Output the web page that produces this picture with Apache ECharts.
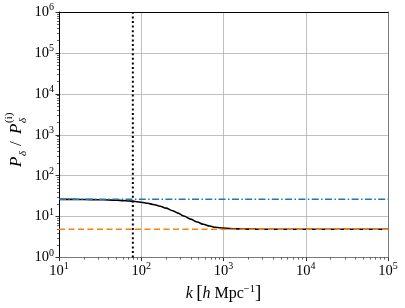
<!DOCTYPE html>
<html>
<head>
<meta charset="utf-8">
<script src="https://cdn.jsdelivr.net/npm/echarts@6/dist/echarts.min.js"></script>
<style>
html,body{margin:0;padding:0;background:#fff;}
#c{width:405px;height:308px;}
</style>
</head>
<body>
<div id="c"></div>
<script>
// ---- data ----
const kValues = [10, 15, 20, 30, 40, 50, 60, 70, 80, 90, 100, 120, 140, 170, 200, 240, 280, 330, 400, 480, 570, 680, 800, 1000, 1200, 1500, 2000, 2500, 3000, 4000, 6000, 10000, 100000];
const ratioValues = [26.5, 26.4, 26.3, 26.0, 25.6, 25.2, 24.7, 24.2, 23.7, 23.1, 22.5, 21.2, 19.9, 18.0, 16.2, 14.0, 12.2, 10.4, 8.7, 7.4, 6.5, 5.9, 5.5, 5.25, 5.12, 5.03, 4.97, 4.95, 4.93, 4.92, 4.92, 4.92, 4.92];
const kRange = [10, 100000];
const blueLevel = 26.5;
const orangeLevel = 4.92;
const kStar = 79;
const yRange = [1, 1e6];
const xDecades = [1, 2, 3, 4, 5];
const yDecades = [0, 1, 2, 3, 4, 5, 6];

const serif = "'Liberation Serif', 'DejaVu Serif', serif";
function minorLogs(decs) {
  const out = [];
  for (let i = 0; i < decs.length - 1; i++) {
    for (let m = 2; m <= 9; m++) out.push(decs[i] + Math.log10(m));
  }
  return out;
}
const tickRich = {
  b: { fontSize: 14.5, fontFamily: serif, color: '#000' },
  s: { fontSize: 10, fontFamily: serif, color: '#000', padding: [0, 0, 9, 0] }
};
function powLabel(v) {
  const e = Math.round(Math.log10(v));
  return '{b|10}{s|' + e + '}';
}
const chart = echarts.init(document.getElementById('c'), null, { renderer: 'canvas' });
const curve = kValues.map((k, i) => [k, ratioValues[i]]);
const grid = { left: 59, right: 17, top: 12, bottom: 50 };
const gridLine = { show: true, lineStyle: { color: '#b0b0b0', width: 0.8 } };

chart.setOption({
  animation: false,
  grid: grid,
  xAxis: [
    {
      type: 'log', logBase: 10, min: kRange[0], max: kRange[1], position: 'bottom',
      axisLine: { show: true, lineStyle: { color: '#7a7a7a', width: 1 } },
      axisTick: { show: true, length: 3.5, lineStyle: { color: '#000', width: 0.8 } },
      axisLabel: { formatter: powLabel, rich: tickRich, margin: 4 },
      splitLine: gridLine,
      name: '{it|k} {br|[}{it|h}{rm| Mpc}{s|−1}{br|]}',
      nameLocation: 'middle', nameGap: 22,
      nameTextStyle: {
        rich: {
          it: { fontSize: 16, fontFamily: serif, fontStyle: 'italic', color: '#000' },
          rm: { fontSize: 16, fontFamily: serif, color: '#000' },
          br: { fontSize: 19, fontFamily: serif, color: '#000' },
          s: { fontSize: 10.5, fontFamily: serif, color: '#000', padding: [0, 0, 9, 0] }
        }
      }
    },
    {
      type: 'value', min: xDecades[0], max: xDecades[xDecades.length - 1], position: 'bottom',
      axisLine: { show: false }, axisLabel: { show: false }, splitLine: { show: false },
      axisTick: { show: true, length: 2, customValues: minorLogs(xDecades), lineStyle: { color: '#000', width: 0.6 } }
    },
    {
      type: 'value', min: 0, max: 1, position: 'top',
      axisLine: { show: true, lineStyle: { color: '#000', width: 1 } },
      axisLabel: { show: false }, axisTick: { show: false }, splitLine: { show: false }
    }
  ],
  yAxis: [
    {
      type: 'log', logBase: 10, min: yRange[0], max: yRange[1], position: 'left',
      axisLine: { show: true, lineStyle: { color: '#000', width: 1 } },
      axisTick: { show: true, length: 3.5, lineStyle: { color: '#000', width: 0.8 } },
      axisLabel: { formatter: powLabel, rich: tickRich, margin: 5 },
      splitLine: gridLine
    },
    {
      type: 'value', min: yDecades[0], max: yDecades[yDecades.length - 1], position: 'left',
      axisLine: { show: false }, axisLabel: { show: false }, splitLine: { show: false },
      axisTick: { show: true, length: 2, customValues: minorLogs(yDecades), lineStyle: { color: '#000', width: 0.6 } }
    },
    {
      type: 'value', min: 0, max: 1, position: 'right',
      axisLine: { show: true, lineStyle: { color: '#7a7a7a', width: 1 } },
      axisLabel: { show: false }, axisTick: { show: false }, splitLine: { show: false }
    }
  ],
  graphic: [{
    type: 'group', x: 17, y: 135, rotation: Math.PI / 2,
    children: [
      { type: 'text', x: -32, y: 0, style: { text: 'P', font: 'italic 17px ' + serif, fill: '#000', textVerticalAlign: 'middle' } },
      { type: 'text', x: -21, y: 6, style: { text: 'δ', font: 'italic 11px ' + serif, fill: '#000', textVerticalAlign: 'middle' } },
      { type: 'text', x: -11, y: 0, style: { text: '/', font: '17px ' + serif, fill: '#000', textVerticalAlign: 'middle' } },
      { type: 'text', x: 1, y: 0, style: { text: 'P', font: 'italic 17px ' + serif, fill: '#000', textVerticalAlign: 'middle' } },
      { type: 'text', x: 12, y: 6, style: { text: 'δ', font: 'italic 11px ' + serif, fill: '#000', textVerticalAlign: 'middle' } },
      { type: 'text', x: 12, y: -8, style: { text: '(i)', font: '11px ' + serif, fill: '#000', textVerticalAlign: 'middle' } }
    ]
  }],
  series: [
    {
      type: 'line', data: curve, smooth: 0.3, smoothMonotone: 'x', showSymbol: false, z: 2,
      lineStyle: { color: '#000', width: 1.6 }
    },
    {
      type: 'line', data: [[kRange[0], blueLevel], [kRange[1], blueLevel]], showSymbol: false, z: 3,
      lineStyle: { color: '#1f77b4', width: 1.5, type: [7, 2.4, 1.5, 2.4] }
    },
    {
      type: 'line', data: [[kRange[0], orangeLevel], [kRange[1], orangeLevel]], showSymbol: false, z: 3,
      lineStyle: { color: '#ff7f0e', width: 1.5, type: [6, 3.5] }
    },
    {
      type: 'line', data: [[kStar, yRange[0]], [kStar, yRange[1]]], showSymbol: false, z: 4,
      lineStyle: { color: '#000', width: 2, type: [2, 2.6] }
    }
  ]
});
</script>
</body>
</html>
